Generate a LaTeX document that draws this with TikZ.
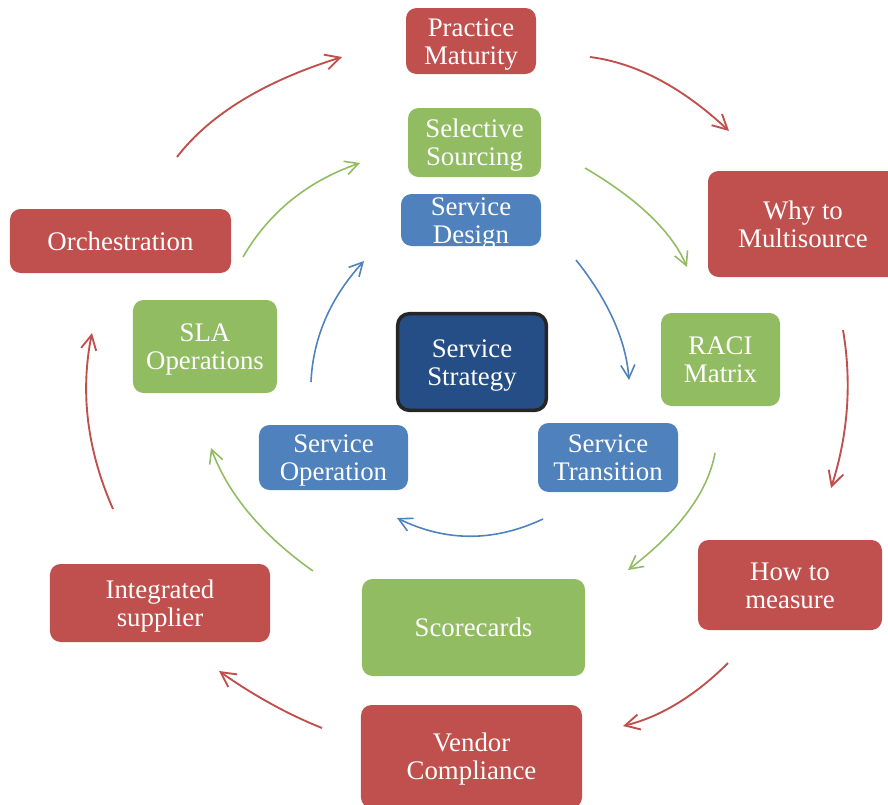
\documentclass[tikz,border=0pt]{standalone}
\usepackage{fontspec}
\setmainfont{Liberation Serif}
\usepackage{xcolor}
\definecolor{cyclered}{HTML}{C0504D}
\definecolor{cyclegreen}{HTML}{92BC62}
\definecolor{cycleblue}{HTML}{4F81BD}
\definecolor{coreblue}{HTML}{254E87}
\usetikzlibrary{arrows.meta}

\begin{document}
\begin{tikzpicture}[
        x=0.03cm, y=-0.03cm,
        font=\fontsize{22.9pt}{24pt}\selectfont,
        cycle_box/.style={
            rectangle,
            rounded corners=9pt,
            text=white,
            align=center,
            inner sep=0pt,
            text height=39.5pt,
            text depth=0pt
        },
        one_line/.style={text height=15.5pt},
        red_box/.style={cycle_box, fill=cyclered},
        green_box/.style={cycle_box, fill=cyclegreen},
        blue_box/.style={cycle_box, fill=cycleblue},
        core_box/.style={
            cycle_box,
            fill=coreblue,
            draw=black!85,
            line width=3pt,
            rounded corners=10pt
        },
        red_arrow/.style={
            -{Straight Barb[length=4.4mm, width=4.6mm]},
            draw=cyclered,
            line width=1.6pt
        },
        green_arrow/.style={
            -{Straight Barb[length=4mm, width=4.2mm]},
            draw=cyclegreen,
            line width=1.35pt
        },
        blue_arrow/.style={
            -{Straight Barb[length=4mm, width=4.2mm]},
            draw=cycleblue,
            line width=1.35pt
        }
    ]

    \clip (0,0) rectangle (888,805);

    % Outer ring (red)
    \node[red_box, minimum width=3.9cm, minimum height=1.98cm] (practice) at (471,41) {Practice\\Maturity};
    \node[red_box, minimum width=5.7cm, minimum height=3.18cm] (why) at (803,224) {Why to\\Multisource};
    \node[red_box, minimum width=5.52cm, minimum height=2.7cm] (measure) at (790,585) {How to\\measure};
    \node[red_box, minimum width=6.63cm, minimum height=3.09cm] (vendor) at (471.5,756.5) {Vendor\\Compliance};
    \node[red_box, minimum width=6.6cm, minimum height=2.34cm] (integrated) at (160,603) {Integrated\\supplier};
    \node[red_box, one_line, minimum width=6.63cm, minimum height=1.92cm] (orchestration) at (120.5,241) {Orchestration};

    % Middle ring (green)
    \node[green_box, minimum width=3.99cm, minimum height=2.07cm] (sourcing) at (474.5,142.5) {Selective\\Sourcing};
    \node[green_box, minimum width=3.57cm, minimum height=2.79cm] (raci) at (720.5,359.5) {RACI\\Matrix};
    \node[green_box, one_line, minimum width=6.69cm, minimum height=2.91cm] (scorecards) at (473.5,627.5) {Scorecards};
    \node[green_box, minimum width=4.32cm, minimum height=2.79cm] (sla) at (205,346.5) {SLA\\Operations};

    % Inner ring (blue)
    \node[blue_box, minimum width=4.2cm, minimum height=1.56cm] (design) at (471,220) {Service\\Design};
    \node[blue_box, minimum width=4.2cm, minimum height=2.07cm] (transition) at (608,457.5) {Service\\Transition};
    \node[blue_box, minimum width=4.47cm, minimum height=1.95cm] (operation) at (333.5,457.5) {Service\\Operation};

    % Centre
    \node[core_box, minimum width=4.46cm, minimum height=2.9cm] (strategy) at (472,362) {Service\\Strategy};

    % Outer arrows
    \draw[red_arrow] (177,157) .. controls (210,114) and (265,81) .. (342,57);
    \draw[red_arrow] (590,57) .. controls (637,63) and (683,88) .. (729,131);
    \draw[red_arrow] (843,330) .. controls (852,383) and (848,435) .. (831,488);
    \draw[red_arrow] (728,663) .. controls (695,696) and (660,717) .. (623,726);
    \draw[red_arrow] (322,728) .. controls (287,714) and (253,695) .. (219,671);
    \draw[red_arrow] (113,509) .. controls (87,450) and (80,392) .. (92,333);

    % Middle arrows
    \draw[green_arrow] (243,257) .. controls (269,212) and (308,181) .. (360,163);
    \draw[green_arrow] (585,168) .. controls (638,199) and (672,232) .. (687,267);
    \draw[green_arrow] (715,453) .. controls (708,492) and (679,531) .. (628,570);
    \draw[green_arrow] (313,571) .. controls (262,535) and (228,494) .. (211,448);

    % Inner arrows
    \draw[blue_arrow] (311,382) .. controls (313,337) and (331,297) .. (364,261);
    \draw[blue_arrow] (576,260) .. controls (608,300) and (626,340) .. (629,380);
    \draw[blue_arrow] (543,519) .. controls (494,542) and (446,542) .. (397,518);

\end{tikzpicture}
\end{document}
